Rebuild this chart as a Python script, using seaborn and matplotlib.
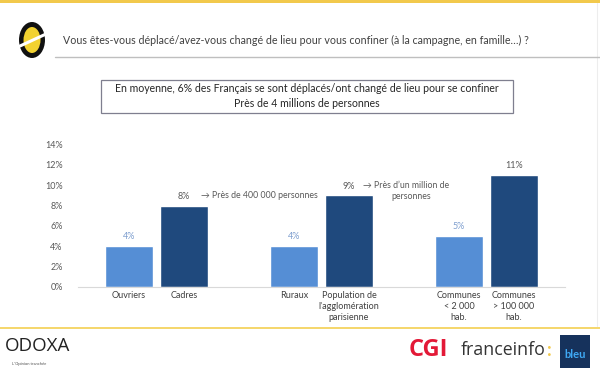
import matplotlib
matplotlib.use("Agg")
import matplotlib.pyplot as plt
import seaborn as sns
import pandas as pd
from matplotlib.patches import Rectangle, Ellipse
from matplotlib.lines import Line2D

# ---- data ----
categories = ["Ouvriers", "Cadres", "Ruraux",
              "Population de\nl'agglomération\nparisienne",
              "Communes\n< 2 000\nhab.", "Communes\n> 100 000\nhab."]
values = [4, 8, 4, 9, 5, 11]
tones = ["clair", "foncé", "clair", "foncé", "clair", "foncé"]
spacers = [" ", "  "]
order = [categories[0], categories[1], spacers[0],
         categories[2], categories[3], spacers[1],
         categories[4], categories[5]]
yticks = [0, 2, 4, 6, 8, 10, 12, 14]

title = "Vous êtes-vous déplacé/avez-vous changé de lieu pour vous confiner (à la campagne, en famille…) ?"
box_text = "En moyenne, 6% des Français se sont déplacés/ont changé de lieu pour se confiner\nPrès de 4 millions de personnes"
note_cadres = "→ Près de 400 000 personnes"
note_paris = "Près d’un million de\npersonnes"

df = pd.DataFrame({"cat": categories, "val": values, "tone": tones})

sns.set_theme(style="white")
plt.rcParams["font.family"] = ["Lato", "DejaVu Sans"]

W, H = 600, 371
fig = plt.figure(figsize=(6, 3.71), dpi=100)
fig.patch.set_facecolor("white")

def fx(px):
    return px / W

def fy(py):
    return 1 - py / H

ax = fig.add_axes([fx(78), fy(287), fx(565) - fx(78), fy(144.5) - fy(287)])

light, dark = "#558ED5", "#1F497D"
sns.barplot(data=df, x="cat", y="val", hue="tone", order=order,
            palette={"clair": light, "foncé": dark}, dodge=False,
            width=0.87, legend=False, ax=ax, saturation=1)

ax.set_ylim(0, 14)
ax.set_xlim(-0.93, 7.93)
ax.set_yticks(yticks)
ax.set_yticklabels([f"{t}%" for t in yticks])
ax.set_xlabel("")
ax.set_ylabel("")
for s in ["top", "right", "left"]:
    ax.spines[s].set_visible(False)
ax.spines["bottom"].set_color("#D9D9D9")
ax.spines["bottom"].set_linewidth(0.8)
ax.tick_params(axis="y", length=0, pad=11, labelsize=6.5, labelcolor="#595959")
ax.tick_params(axis="x", length=0, pad=3, labelsize=6.5, labelcolor="#404040")
ax.set_xticks(range(len(order)))
ax.set_xticklabels(order, linespacing=1.3, va="top")

label_colors = {"clair": "#7F9FCF", "foncé": "#595959"}
for cont, tone in zip(ax.containers, ["clair", "foncé"]):
    ax.bar_label(cont, fmt="%g%%", padding=3.5, fontsize=6.5, color=label_colors[tone])

ax.text(1.3, 8.95, note_cadres, ha="left", va="center", fontsize=6.3, color="#595959")
ax.text(4.33, 9.95, "→", ha="center", va="center", fontsize=6.3, color="#595959")
ax.text(5.13, 9.41, note_paris, ha="center", va="center", fontsize=6.3,
        color="#595959", linespacing=1.3)

# ---- decorations ----
fig.add_artist(Rectangle((0, fy(3)), 1, fy(0) - fy(3), transform=fig.transFigure,
                         color="#F2C94C", lw=0))
fig.add_artist(Rectangle((0, fy(329)), 1, fy(326.5) - fy(329), transform=fig.transFigure,
                         color="#F5D76E", lw=0))
fig.add_artist(Line2D([fx(597), fx(597)], [fy(3), fy(326)], transform=fig.transFigure,
                      color="#EDEDED", lw=0.8))

# logo
fig.add_artist(Ellipse((fx(32), fy(40)), fx(26), fy(0) - fy(36), transform=fig.transFigure,
                       color="#111111", lw=0))
fig.add_artist(Ellipse((fx(32), fy(40)), fx(17), fy(0) - fy(26), transform=fig.transFigure,
                       color="#F2D230", lw=0))
fig.add_artist(Line2D([fx(20), fx(46)], [fy(46), fy(34)], transform=fig.transFigure,
                      color="white", lw=2.2))

fig.text(fx(63), fy(40), title, ha="left", va="center", fontsize=7.65, color="#404040")
fig.add_artist(Line2D([fx(55), fx(600)], [fy(57), fy(57)], transform=fig.transFigure,
                      color="#BFBFBF", lw=1.0))

fig.add_artist(Rectangle((fx(100.5), fy(113)), fx(513) - fx(100.5), fy(79.5) - fy(113),
                         transform=fig.transFigure, fill=False, ec="#7F7F8F", lw=0.9))
fig.text(fx(307), fy(96), box_text, ha="center", va="center", fontsize=7.6,
         color="#262626", linespacing=1.35)

# footer logos
fig.text(fx(5), fy(346), "ODOXA", ha="left", va="center", fontsize=13.5, color="#222222",
         family=["Open Sans", "DejaVu Sans"])
fig.text(fx(12), fy(364), "L'Opinion tranchée", ha="left", va="center", fontsize=3,
         color="#555555")
fig.text(fx(409), fy(350), "CGI", ha="left", va="center", fontsize=17, color="#E31937",
         weight="bold", family=["Open Sans", "DejaVu Sans"])
fig.text(fx(461), fy(350), "franceinfo", ha="left", va="center", fontsize=12.8,
         color="#333333", family=["Open Sans", "DejaVu Sans"])
fig.text(fx(547), fy(351), ":", ha="left", va="center", fontsize=13,
         color="#F2C94C", weight="bold")
fig.add_artist(Rectangle((fx(560), fy(368)), fx(30), fy(335) - fy(368),
                         transform=fig.transFigure, color="#16325C", lw=0))
fig.text(fx(575), fy(355), "bleu", ha="center", va="center", fontsize=8,
         color="#3FA9F5", weight="bold")

fig.savefig("out.png", dpi=100, facecolor="white")
